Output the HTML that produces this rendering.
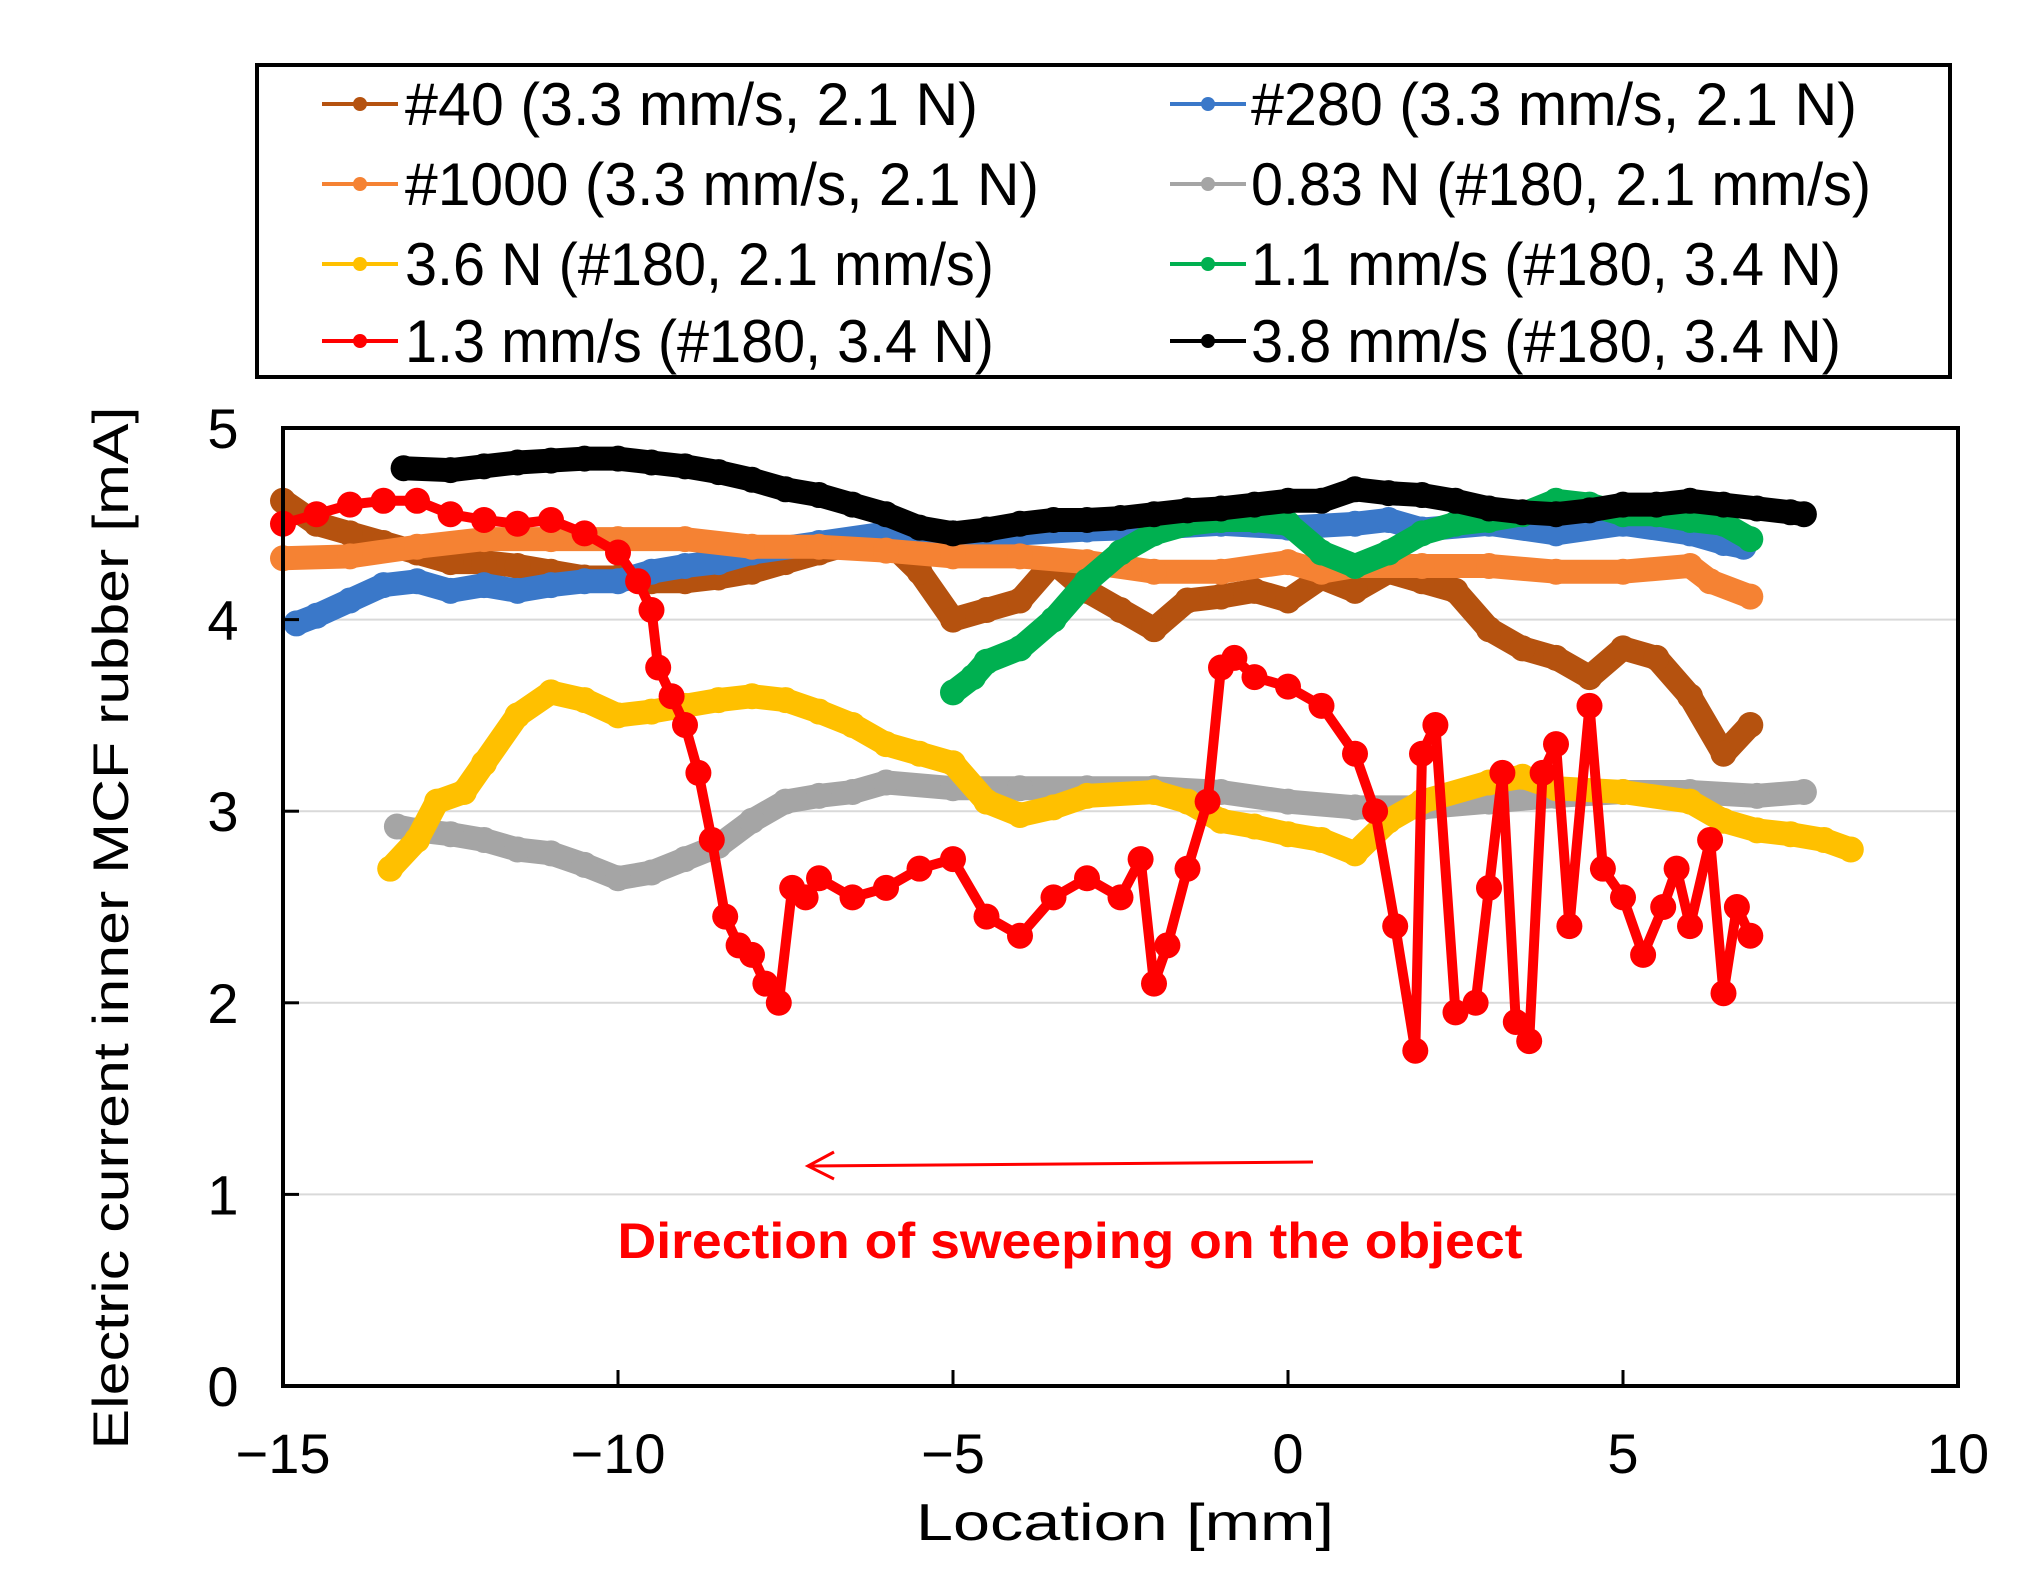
<!DOCTYPE html>
<html><head><meta charset="utf-8"><style>
html,body{margin:0;padding:0;background:#fff;}
svg{display:block;}
text{font-family:"Liberation Sans",sans-serif;}
</style></head><body>
<svg id="chart" width="2037" height="1589" viewBox="0 0 2037 1589" xmlns="http://www.w3.org/2000/svg">
<rect x="0" y="0" width="2037" height="1589" fill="#fff"/>
<g id="grid"></g>
<g id="series"></g>
<rect x="283" y="428" width="1675" height="958" fill="none" stroke="#000" stroke-width="4"/>
<g id="ticks"></g>
<text x="1125" y="1540" font-size="52" text-anchor="middle" textLength="418" lengthAdjust="spacingAndGlyphs">Location  [mm]</text>
<text transform="translate(128,928) rotate(-90)" font-size="50" text-anchor="middle" textLength="1043" lengthAdjust="spacingAndGlyphs">Electric current inner MCF rubber  [mA]</text>
<g stroke="#f00" stroke-width="3" fill="none">
<line x1="1313" y1="1162" x2="808" y2="1166"/>
<polyline points="834,1152 808,1166 834,1179"/>
</g>
<text x="1070" y="1258" font-size="50" font-weight="bold" fill="#f00" text-anchor="middle" textLength="905" lengthAdjust="spacingAndGlyphs">Direction of sweeping on the object</text>
<g id="legend">
<rect x="257" y="65" width="1693" height="312" fill="#fff" stroke="#000" stroke-width="4"/>
</g>
</svg>
<script>
const NS="http://www.w3.org/2000/svg";
const xTicks=[-15,-10,-5,0,5,10];
const xTickLabels=["\u221215","\u221210","\u22125","0","5","10"];
const yTicks=[0,1,2,3,4,5];
const yTickLabels=["0","1","2","3","4","5"];
const seriesNames=["#40 (3.3 mm/s, 2.1  N)","#280 (3.3 mm/s, 2.1  N)","#1000 (3.3 mm/s, 2.1  N)","0.83 N (#180, 2.1 mm/s)","3.6 N (#180, 2.1 mm/s)","1.1 mm/s (#180, 3.4 N)","1.3 mm/s (#180, 3.4 N)","3.8 mm/s (#180, 3.4 N)"];
const seriesColors=["#b5520f","#3a78c9","#f58233","#a5a5a5","#ffc000","#00b050","#ff0000","#000000"];

const g40x=[-15,-14.5,-14,-13.5,-13,-12.5,-12,-11.5,-11,-10.5,-10,-9.5,-9,-8.5,-8,-7.5,-7,-6.5,-6,-5.5,-5,-4.5,-4,-3.5,-3,-2.5,-2,-1.5,-1,-0.5,0,0.5,1,1.5,2,2.5,3,3.5,4,4.5,5,5.5,6,6.5,6.9];
const g40y=[4.62,4.5,4.45,4.4,4.35,4.3,4.3,4.28,4.25,4.22,4.22,4.2,4.2,4.22,4.25,4.3,4.35,4.4,4.42,4.25,4.0,4.05,4.1,4.3,4.15,4.05,3.95,4.1,4.12,4.15,4.1,4.22,4.15,4.25,4.2,4.15,3.95,3.85,3.8,3.7,3.85,3.8,3.6,3.3,3.45];
const g280x=[-14.8,-14.5,-14,-13.5,-13,-12.5,-12,-11.5,-11,-10.5,-10,-9.5,-9,-8.5,-8,-7,-6,-5,-4,-3,-2,-1,0,1,1.5,2,3,4,5,6,6.5,6.8];
const g280y=[3.98,4.02,4.1,4.18,4.2,4.15,4.18,4.15,4.18,4.2,4.2,4.25,4.28,4.3,4.35,4.4,4.45,4.45,4.45,4.47,4.48,4.5,4.48,4.5,4.52,4.47,4.5,4.45,4.5,4.45,4.4,4.38];
const g1000x=[-15,-14,-13,-12,-11,-10,-9,-8,-7,-6,-5,-4,-3,-2,-1,0,0.5,1,2,3,4,5,6,6.3,6.9];
const g1000y=[4.32,4.33,4.38,4.42,4.42,4.42,4.42,4.38,4.38,4.36,4.33,4.33,4.3,4.25,4.25,4.3,4.25,4.28,4.28,4.28,4.25,4.25,4.28,4.2,4.12];
const n083x=[-13.3,-13,-12.5,-12,-11.5,-11,-10.5,-10,-9.5,-9,-8.5,-8,-7.5,-7,-6.5,-6,-5,-4,-3,-2,-1,0,1,2,3,4,5,6,7,7.7];
const n083y=[2.92,2.9,2.88,2.85,2.8,2.78,2.72,2.65,2.68,2.75,2.82,2.95,3.05,3.08,3.1,3.15,3.12,3.12,3.12,3.12,3.1,3.05,3.02,3.02,3.05,3.08,3.1,3.1,3.08,3.1];
const n36x=[-13.4,-13,-12.7,-12.3,-12,-11.5,-11,-10.5,-10,-9.5,-9,-8.5,-8,-7.5,-7,-6.5,-6,-5.5,-5,-4.5,-4,-3.5,-3,-2,-1.5,-1,-0.5,0,0.5,1,1.5,2,3,3.5,4,5,6,6.5,7,7.5,8,8.4];
const n36y=[2.7,2.85,3.05,3.1,3.25,3.5,3.62,3.58,3.5,3.52,3.55,3.58,3.6,3.58,3.52,3.45,3.35,3.3,3.25,3.05,2.98,3.02,3.08,3.1,3.05,2.95,2.92,2.88,2.85,2.78,2.95,3.05,3.15,3.18,3.12,3.1,3.05,2.95,2.9,2.88,2.85,2.8];
const v11x=[-5,-4.7,-4.5,-4,-3.5,-3,-2.5,-2,-1.5,-1,-0.5,0,0.5,1,1.5,2,2.5,3,3.5,4,4.5,5,5.5,6,6.5,6.9];
const v11y=[3.62,3.7,3.78,3.85,4.0,4.2,4.35,4.45,4.5,4.52,4.52,4.5,4.35,4.28,4.35,4.45,4.5,4.52,4.55,4.62,4.6,4.55,4.55,4.52,4.5,4.42];
const v13x=[-15,-14.5,-14,-13.5,-13,-12.5,-12,-11.5,-11,-10.5,-10,-9.7,-9.5,-9.4,-9.2,-9,-8.8,-8.6,-8.4,-8.2,-8,-7.8,-7.6,-7.4,-7.2,-7,-6.5,-6,-5.5,-5,-4.5,-4,-3.5,-3,-2.5,-2.2,-2,-1.8,-1.5,-1.2,-1,-0.8,-0.5,0,0.5,1,1.3,1.6,1.9,2,2.2,2.5,2.8,3,3.2,3.4,3.6,3.8,4,4.2,4.5,4.7,5,5.3,5.6,5.8,6,6.3,6.5,6.7,6.9];
const v13y=[4.5,4.55,4.6,4.62,4.62,4.55,4.52,4.5,4.52,4.45,4.35,4.2,4.05,3.75,3.6,3.45,3.2,2.85,2.45,2.3,2.25,2.1,2.0,2.6,2.55,2.65,2.55,2.6,2.7,2.75,2.45,2.35,2.55,2.65,2.55,2.75,2.1,2.3,2.7,3.05,3.75,3.8,3.7,3.65,3.55,3.3,3.0,2.4,1.75,3.3,3.45,1.95,2.0,2.6,3.2,1.9,1.8,3.2,3.35,2.4,3.55,2.7,2.55,2.25,2.5,2.7,2.4,2.85,2.05,2.5,2.35];
const v38x=[-13.2,-12.5,-12,-11.5,-11,-10.5,-10,-9.5,-9,-8.5,-8,-7.5,-7,-6.5,-6,-5.5,-5,-4.5,-4,-3.5,-3,-2.5,-2,-1.5,-1,-0.5,0,0.5,1,1.5,2,2.5,3,3.5,4,4.5,5,5.5,6,6.5,7,7.5,7.7];
const v38y=[4.79,4.78,4.8,4.82,4.83,4.84,4.84,4.82,4.8,4.77,4.73,4.68,4.65,4.6,4.55,4.48,4.45,4.47,4.5,4.52,4.52,4.53,4.55,4.57,4.58,4.6,4.62,4.62,4.68,4.66,4.65,4.62,4.58,4.56,4.55,4.57,4.6,4.6,4.62,4.6,4.58,4.56,4.55];

const X0=283,X1=1958,Y0=1386,Y1=428;
function sx(v){return X0+(v+15)/25*(X1-X0);}
function sy(v){return Y0-v/5*(Y0-Y1);}

const grid=document.getElementById('grid');
const ticks=document.getElementById('ticks');
yTicks.forEach((t,i)=>{
  if(t>0&&t<5){
    const l=document.createElementNS(NS,'line');
    
    
    l.setAttribute('x1',X0);l.setAttribute('x2',X1);l.setAttribute('y1',sy(t));l.setAttribute('y2',sy(t));
    l.setAttribute('stroke','#d9d9d9');l.setAttribute('stroke-width','2');
    grid.appendChild(l);
    const tk=document.createElementNS(NS,'line');
    
    
    tk.setAttribute('x1',X0);tk.setAttribute('x2',X0+16);tk.setAttribute('y1',sy(t));tk.setAttribute('y2',sy(t));
    tk.setAttribute('stroke','#000');tk.setAttribute('stroke-width','3');
    ticks.appendChild(tk);
  }
  const tx=document.createElementNS(NS,'text');
  
  
  tx.setAttribute('x',223);tx.setAttribute('y',sy(t)+20);
  tx.setAttribute('font-size','56');tx.setAttribute('text-anchor','middle');
  tx.textContent=yTickLabels[i];
  ticks.appendChild(tx);
});
xTicks.forEach((t,i)=>{
  if(t>-15&&t<10){
    const tk=document.createElementNS(NS,'line');
    
    
    tk.setAttribute('x1',sx(t));tk.setAttribute('x2',sx(t));tk.setAttribute('y1',Y0);tk.setAttribute('y2',Y0-16);
    tk.setAttribute('stroke','#000');tk.setAttribute('stroke-width','3');
    ticks.appendChild(tk);
  }
  const tx=document.createElementNS(NS,'text');
  
  
  tx.setAttribute('x',sx(t));tx.setAttribute('y',1473);
  tx.setAttribute('font-size','56');tx.setAttribute('text-anchor','middle');
  tx.textContent=xTickLabels[i];
  ticks.appendChild(tx);
});

const seriesData=[[g40x,g40y],[g280x,g280y],[g1000x,g1000y],[n083x,n083y],[n36x,n36y],[v11x,v11y],[v13x,v13y],[v38x,v38y]];
const seriesKeys=["40","280","1000","083n","36n","11mms","13mms","38mms"];
const drawOrder=[3,4,0,1,2,5,6,7];
const sg=document.getElementById('series');
drawOrder.forEach(k=>{
  const xs=seriesData[k][0],ys=seriesData[k][1],c=seriesColors[k];
  const grp=document.createElementNS(NS,'g');
  
  
  const pl=document.createElementNS(NS,'polyline');
  
  
  pl.setAttribute('points',xs.map((x,i)=>sx(x)+','+sy(ys[i])).join(' '));
  pl.setAttribute('fill','none');pl.setAttribute('stroke',c);
  pl.setAttribute('stroke-width',k===6?'10':'24');
  pl.setAttribute('stroke-linejoin','round');pl.setAttribute('stroke-linecap','round');
  grp.appendChild(pl);
  xs.forEach((x,i)=>{
    const m=document.createElementNS(NS,'circle');
    
    
    m.setAttribute('cx',sx(x));m.setAttribute('cy',sy(ys[i]));m.setAttribute('r','13');m.setAttribute('fill',c);
    grp.appendChild(m);
  });
  sg.appendChild(grp);
});

const leg=document.getElementById('legend');
const legX=[322,1170],legTX=[405,1251],legY=[104,184,264,341];
const legOrder=[[0,1],[2,3],[4,5],[6,7]];
const legW=[[573,606],[634,620],[589,590],[589,590]];
legOrder.forEach((row,r)=>{
  row.forEach((k,c)=>{
    const e=document.createElementNS(NS,'g');
    
    
    const l=document.createElementNS(NS,'line');
    l.setAttribute('x1',legX[c]);l.setAttribute('x2',legX[c]+76);l.setAttribute('y1',legY[r]);l.setAttribute('y2',legY[r]);
    l.setAttribute('stroke',seriesColors[k]);l.setAttribute('stroke-width','4');
    e.appendChild(l);
    const m=document.createElementNS(NS,'circle');
    m.setAttribute('cx',legX[c]+38);m.setAttribute('cy',legY[r]);m.setAttribute('r','7');m.setAttribute('fill',seriesColors[k]);
    e.appendChild(m);
    const t=document.createElementNS(NS,'text');
    t.setAttribute('x',legTX[c]);t.setAttribute('y',legY[r]+21);
    t.setAttribute('font-size','60');
    t.setAttribute('textLength',legW[r][c]);t.setAttribute('lengthAdjust','spacingAndGlyphs');
    t.textContent=seriesNames[k];
    e.appendChild(t);
    leg.appendChild(e);
  });
});
</script>
</body></html>
